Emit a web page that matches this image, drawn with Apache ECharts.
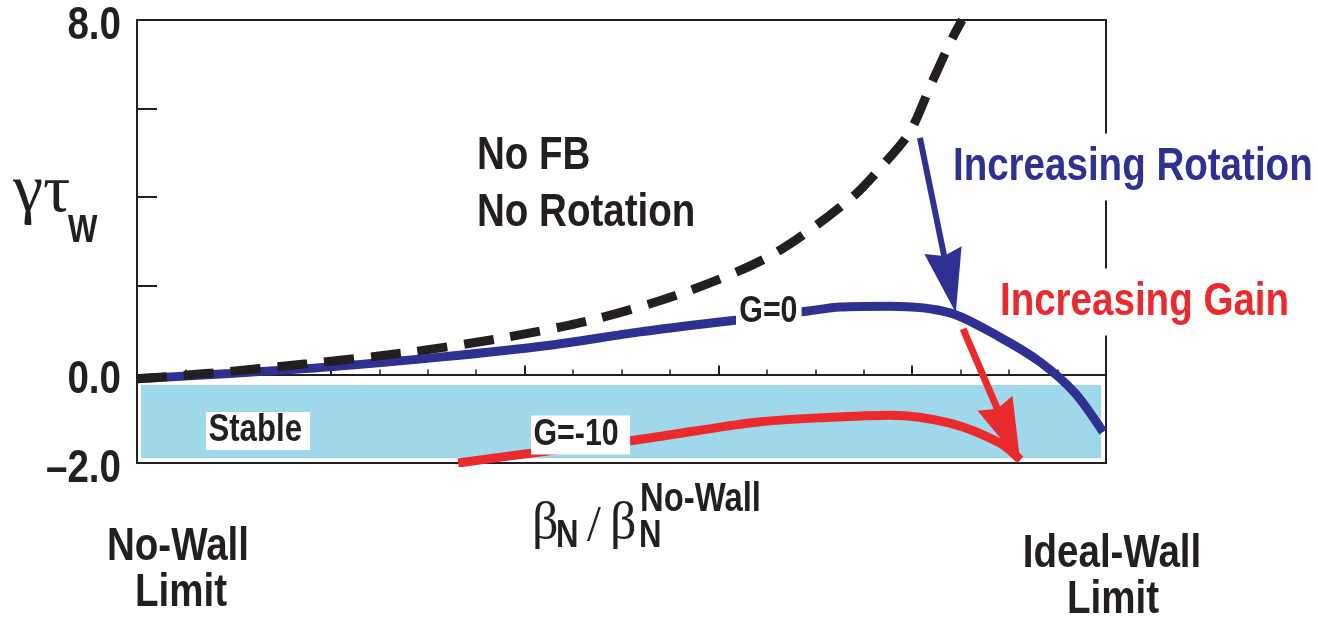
<!DOCTYPE html>
<html>
<head>
<meta charset="utf-8">
<script src="https://cdn.jsdelivr.net/npm/echarts@6/dist/echarts.min.js"></script>
<style>
  html, body { margin: 0; padding: 0; background: #ffffff; }
  #chart { width: 1318px; height: 618px; }
</style>
</head>
<body>
<div id="chart"></div>
<script>
// Normalized beta runs from the no-wall limit (0) to the ideal-wall limit (20)
const xRange = [0, 20];
const yRange = [-2, 8];
const yTickValues = [8, 0, -2];
const yTickLabels = ['8.0', '0.0', '\u20132.0'];

// No feedback, no rotation
const noFbX = [0, 1.55, 3.51, 5.47, 7.43, 9.39, 11.27, 13.11, 14.72, 15.40, 15.95, 16.41, 16.82, 17.03];
const noFbY = [-0.10, 0.03, 0.24, 0.48, 0.80, 1.23, 1.84, 2.70, 3.96, 4.73, 5.47, 6.60, 7.57, 8.00];

// Feedback gain G = 0
const g0X = [0, 1.90, 3.98, 6.25, 8.52, 10.38, 12.38, 13.85, 14.51, 15.54, 16.78, 17.81, 18.64, 19.36, 19.94];
const g0Y = [-0.10, 0.02, 0.17, 0.39, 0.66, 0.96, 1.23, 1.43, 1.52, 1.54, 1.39, 0.84, 0.28, -0.42, -1.30];

// Feedback gain G = -10
const gm10X = [6.63, 8.32, 10.30, 11.62, 12.86, 14.10, 15.54, 16.78, 17.81, 18.23];
const gm10Y = [-2.00, -1.75, -1.48, -1.26, -1.07, -0.98, -0.92, -1.10, -1.55, -1.93];

// Stable region [x, y] corners
const stableBand = [[0.08, -0.24], [19.90, -1.89]];

// Arrows: [xFrom, yFrom, xTo, yTo]
const rotationArrow = [16.16, 5.34, 16.90, 1.39];
const gainArrow = [17.05, 1.03, 18.23, -1.98];

const ink = '#231F20';
const blue = '#2E3192';
const red = '#EB2A2E';
const cyan = '#9ED8EA';
const sans = "'Liberation Sans',Arial,sans-serif";
const serif = "'Liberation Serif','DejaVu Serif',serif";
const condense = 0.82;   // horizontal squeeze for the condensed bold lettering

const zip = (xs, ys) => xs.map((x, i) => [x, ys[i]]);

function arrowRenderer(shaftWidth, headLen, headWidth) {
  return function (params, api) {
    const p1 = api.coord([api.value(0), api.value(1)]);
    const p2 = api.coord([api.value(2), api.value(3)]);
    const dx = p2[0] - p1[0], dy = p2[1] - p1[1];
    const len = Math.hypot(dx, dy);
    const ux = dx / len, uy = dy / len;
    const nx = -uy, ny = ux;
    const bx = p2[0] - ux * headLen, by = p2[1] - uy * headLen;
    const notch = 6;
    const color = api.visual('color');
    return {
      type: 'group',
      children: [
        {
          type: 'line',
          shape: { x1: p1[0], y1: p1[1], x2: bx + ux * notch, y2: by + uy * notch },
          style: { stroke: color, lineWidth: shaftWidth }
        },
        {
          type: 'polygon',
          shape: {
            points: [
              [p2[0], p2[1]],
              [bx + nx * headWidth / 2, by + ny * headWidth / 2],
              [bx + ux * notch, by + uy * notch],
              [bx - nx * headWidth / 2, by - ny * headWidth / 2]
            ]
          },
          style: { fill: color }
        }
      ]
    };
  };
}

// Text element anchored at (x, y); bold sans lettering is squeezed horizontally
function txt(text, x, y, size, opts) {
  opts = opts || {};
  const isSerif = opts.family === serif;
  const el = {
    type: 'text',
    z: opts.z != null ? opts.z : 100,
    x: x,
    y: y,
    scaleX: isSerif ? 1 : condense,
    style: {
      text: text,
      x: 0,
      y: 0,
      font: (opts.weight || 'bold') + ' ' + size + 'px ' + (opts.family || sans),
      fill: opts.color || ink,
      textAlign: opts.align || 'left',
      textVerticalAlign: 'middle'
    }
  };
  if (opts.box) {
    el.style.backgroundColor = '#ffffff';
    el.style.padding = opts.box;
  }
  return el;
}

const chart = echarts.init(document.getElementById('chart'), null, { renderer: 'canvas' });

chart.setOption({
  animation: false,
  backgroundColor: '#ffffff',
  grid: {
    left: 137, right: 212, top: 20, bottom: 155,
    show: true, borderColor: ink, borderWidth: 2
  },
  xAxis: {
    type: 'value',
    min: xRange[0], max: xRange[1], interval: 4,
    axisLine: { show: true, lineStyle: { color: ink, width: 2 } },
    axisTick: { show: true, inside: true, length: 9, lineStyle: { color: ink, width: 2 } },
    minorTick: { show: true, splitNumber: 4, length: 5, lineStyle: { color: ink, width: 1.5 } },
    axisLabel: { show: false },
    splitLine: { show: false }
  },
  yAxis: {
    type: 'value',
    min: yRange[0], max: yRange[1], interval: 2,
    axisLine: { show: true, lineStyle: { color: ink, width: 2 } },
    axisTick: { show: true, inside: true, length: 20, lineStyle: { color: ink, width: 2 } },
    splitLine: { show: false },
    axisLabel: { show: false }
  },
  series: [
    {
      name: 'Stable',
      type: 'line',
      data: [],
      markArea: {
        silent: true,
        itemStyle: { color: cyan, opacity: 1 },
        data: [[{ coord: stableBand[0] }, { coord: stableBand[1] }]]
      }
    },
    {
      name: 'G=-10',
      type: 'line',
      data: zip(gm10X, gm10Y),
      smooth: 0.3,
      showSymbol: false,
      lineStyle: { color: red, width: 9 },
      itemStyle: { color: red }
    },
    {
      name: 'G=0',
      type: 'line',
      data: zip(g0X, g0Y),
      smooth: 0.3,
      showSymbol: false,
      lineStyle: { color: blue, width: 9 },
      itemStyle: { color: blue }
    },
    {
      name: 'No FB, No Rotation',
      type: 'line',
      data: zip(noFbX, noFbY),
      smooth: 0.3,
      showSymbol: false,
      lineStyle: { color: ink, width: 9, type: [30, 17], cap: 'butt' },
      itemStyle: { color: ink }
    },
    {
      name: 'Increasing Rotation',
      type: 'custom',
      clip: false,
      z: 10,
      renderItem: arrowRenderer(6, 64, 38),
      itemStyle: { color: blue },
      encode: { x: [0, 2], y: [1, 3] },
      data: [rotationArrow]
    },
    {
      name: 'Increasing Gain',
      type: 'custom',
      clip: false,
      z: 10,
      renderItem: arrowRenderer(7, 64, 38),
      itemStyle: { color: red },
      encode: { x: [0, 2], y: [1, 3] },
      data: [gainArrow]
    }
  ]
});

// Tick labels of the growth-rate axis, placed through the axis scale
const tickLabelEls = yTickValues.map((v, i) => {
  const py = chart.convertToPixel({ yAxisIndex: 0 }, v);
  return txt(yTickLabels[i], 121, py + 6, 47, { align: 'right' });
});

chart.setOption({
  graphic: tickLabelEls.concat([
    // annotations inside the plot (the two trend captions sit under the curves)
    txt('No FB', 477, 156, 47),
    txt('No Rotation', 477, 213, 47),
    txt('Increasing Rotation', 948, 167, 47, { color: blue, box: [8, 6, 12, 6], z: 1 }),
    txt('Increasing Gain', 995, 302, 47, { color: red, box: [8, 6, 12, 6], z: 1 }),
    txt('G=0', 736, 312, 37, { box: [0, 5, 0, 4] }),
    txt('G=-10', 531, 435, 37, { box: [1, 14, 1, 3] }),
    txt('Stable', 206, 431, 38, { box: [0, 10, 0, 3] }),
    // growth-rate axis title
    txt('\u03B3\u03C4', 13, 193, 68, { weight: 'normal', family: serif }),
    txt('W', 68, 232, 38),
    // beta axis title
    txt('\u03B2', 532, 524, 52, { weight: 'normal', family: serif }),
    txt('N', 556, 537, 38),
    txt('/', 587, 527, 50, { weight: 'normal', family: serif }),
    txt('\u03B2', 610, 524, 52, { weight: 'normal', family: serif }),
    txt('N', 639, 537, 38),
    txt('No-Wall', 640, 500, 40),
    // captions at both ends of the beta axis
    txt('No-Wall', 178, 547, 47, { align: 'center' }),
    txt('Limit', 181, 593, 47, { align: 'center' }),
    txt('Ideal-Wall', 1112, 554, 47, { align: 'center' }),
    txt('Limit', 1113, 600, 47, { align: 'center' })
  ])
});
</script>
</body>
</html>
